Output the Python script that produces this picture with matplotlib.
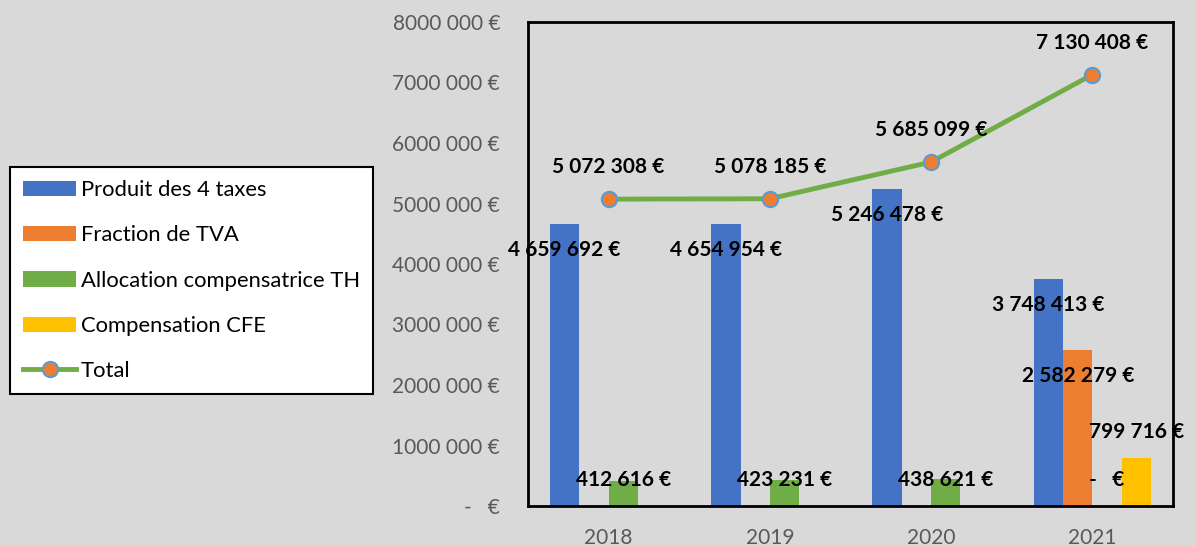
import numpy as np
import matplotlib.pyplot as plt

plt.rcParams['font.family'] = ['Lato', 'DejaVu Sans']

# donnees
annees = ['2018', '2019', '2020', '2021']
produit_4_taxes = [4659692, 4654954, 5246478, 3748413]
fraction_tva = [np.nan, np.nan, np.nan, 2582279]
allocation_th = [412616, 423231, 438621, 0]
compensation_cfe = [np.nan, np.nan, np.nan, 799716]
total = [5072308, 5078185, 5685099, 7130408]

noms = ['Produit des 4 taxes', 'Fraction de TVA', 'Allocation compensatrice TH', 'Compensation CFE']
couleurs = ['#4472C4', '#ED7D31', '#70AD47', '#FFC000']
series = [produit_4_taxes, fraction_tva, allocation_th, compensation_cfe]
# position des etiquettes : 'in' = interieur haut, 'out' = au dessus
pos_etiq = ['in', 'in', 'in', 'out']

fond = '#D9D9D9'
gris = '#595959'
fs = 15


def euro(v):
    if v == 0:
        return '-   €'
    return f"{int(v):,}".replace(',', ' ') + ' €'


def euro_axe(v, pos=None):
    v = int(round(v))
    if v == 0:
        return '-   €'
    return f"{v // 1000} {v % 1000:03d} €"


fig = plt.figure(figsize=(11.96, 5.46), dpi=100, facecolor=fond)
ax = fig.add_axes([528 / 1196, 40 / 546, 645 / 1196, 484 / 546])
ax.set_facecolor(fond)

x = np.arange(len(annees))
w = 0.182
decal = 0.43e6

for i, (vals, nom, c) in enumerate(zip(series, noms, couleurs)):
    vals = np.array(vals, dtype=float)
    xs = x + (i - 1.5) * w
    ax.bar(xs, np.nan_to_num(vals), w, color=c, label=nom)
    for xi, v in zip(xs, vals):
        if np.isnan(v):
            continue
        if pos_etiq[i] == 'in':
            y = max(v - decal, decal)
        else:
            y = v + decal
        ax.text(xi, y, euro(v), ha='center', va='center', fontsize=fs,
                fontweight='bold', color='black', zorder=5)

ax.plot(x, total, color='#70AD47', lw=3.5, marker='o', ms=11,
        mfc='#ED7D31', mec='#5B9BD5', mew=1.5, label='Total', zorder=4)
for xi, v in zip(x, total):
    ax.text(xi, v + 0.53e6, euro(v), ha='center', va='center', fontsize=fs,
            fontweight='bold', color='black', zorder=5)

ax.set_xlim(-0.5, len(annees) - 0.5)
ax.set_ylim(0, 8e6)
ax.set_yticks(np.arange(0, 8e6 + 1, 1e6))
ax.yaxis.set_major_formatter(plt.FuncFormatter(euro_axe))
ax.set_xticks(x)
ax.set_xticklabels(annees)
ax.tick_params(axis='both', length=0, labelsize=fs, colors=gris)
ax.tick_params(axis='x', pad=16)
ax.tick_params(axis='y', pad=20)
for s in ax.spines.values():
    s.set_color('black')
    s.set_linewidth(2)

h, l = ax.get_legend_handles_labels()
ordre = [1, 2, 3, 4, 0]
leg = fig.legend([h[k] for k in ordre], [l[k] for k in ordre], loc='upper left',
                 bbox_to_anchor=(10 / 1196, 1 - 167 / 546), borderaxespad=0,
                 fontsize=15.8, frameon=True, fancybox=False, edgecolor='black',
                 facecolor='white', framealpha=1, handlelength=2.4,
                 handletextpad=0.22, labelspacing=1.15, borderpad=0.6)
leg.get_frame().set_linewidth(1.5)

fig.savefig('out.png', dpi=100, facecolor=fond)
